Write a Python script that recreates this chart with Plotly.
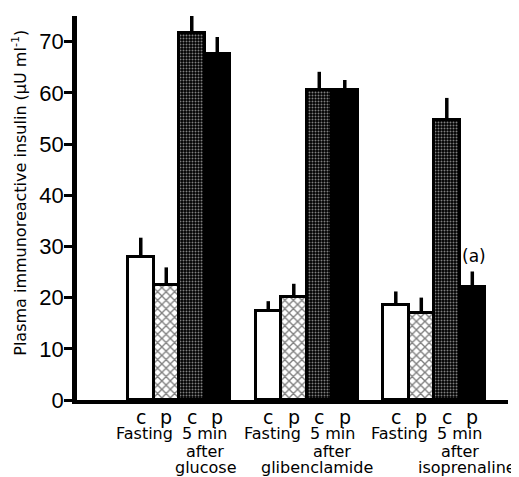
import plotly.graph_objects as go

# ---- data ----
groups = ["glucose", "glibenclamide", "isoprenaline"]
bar_letters = ["c", "p", "c", "p"]
fasting_c = [28.0, 17.3, 18.5]
fasting_c_err = [3.7, 2.0, 2.7]
fasting_p = [22.5, 20.2, 17.0]
fasting_p_err = [3.4, 2.5, 3.0]
after_c = [71.6, 60.5, 54.6]
after_c_err = [4.1, 3.6, 4.4]
after_p = [67.6, 60.5, 22.0]
after_p_err = [3.3, 2.0, 3.1]
y_ticks = [0, 10, 20, 30, 40, 50, 60, 70]
y_title = "Plasma immunoreactive insulin (\u03bcU ml<sup>-1</sup>)"
note_text = "(a)"

# ---- layout helpers ----
Y_MAX = 75.0
group_start = [2.0, 7.0, 12.0]
third_line_offset = [0.05, -0.6, 0.3]

def xs(k):
    return [s + k + 0.5 for s in group_start]

def py(v):
    return v / Y_MAX

fig = go.Figure()
series = [
    (fasting_c, fasting_c_err, dict(color="white")),
    (fasting_p, fasting_p_err, dict(color="white", pattern=dict(shape="x", fgcolor="black", bgcolor="white", size=6, solidity=0.4))),
    (after_c, after_c_err, dict(color="black", pattern=dict(shape=".", fgcolor="white", bgcolor="black", size=3, solidity=0.35))),
    (after_p, after_p_err, dict(color="black")),
]
for k, (vals, errs, mk) in enumerate(series):
    mk = dict(mk)
    mk["line"] = dict(color="black", width=3)
    fig.add_trace(go.Bar(
        x=xs(k), y=vals, width=1.0, marker=mk,
        error_y=dict(type="data", symmetric=False, array=errs,
                     arrayminus=[0] * len(errs), color="black",
                     thickness=3.5, width=0),
        showlegend=False,
    ))

ann = []
lbl_font = dict(family="DejaVu Sans", size=19, color="black")
txt_font = dict(family="DejaVu Sans", size=16, color="black")
for g, s in enumerate(group_start):
    for k, L in enumerate(bar_letters):
        ann.append(dict(x=s + k + 0.5, y=py(-3.3), yref="paper", text=L, showarrow=False,
                        font=lbl_font, xanchor="center", yanchor="middle"))
    ann.append(dict(x=s + 0.65, y=py(-6.6), yref="paper", text="Fasting", showarrow=False,
                    font=txt_font, xanchor="center", yanchor="middle"))
    ann.append(dict(x=s + 3.0, y=py(-6.6), yref="paper", text="5 min", showarrow=False,
                    font=txt_font, xanchor="center", yanchor="middle"))
    ann.append(dict(x=s + 3.0, y=py(-10.0), yref="paper", text="after", showarrow=False,
                    font=txt_font, xanchor="center", yanchor="middle"))
    ann.append(dict(x=s + 3.0 + third_line_offset[g], y=py(-13.2), yref="paper", text=groups[g],
                    showarrow=False, font=txt_font, xanchor="center", yanchor="middle"))

ann.append(dict(x=group_start[2] + 3.55, y=28.2, text=note_text, showarrow=False,
                font=dict(family="DejaVu Sans", size=17, color="black"),
                xanchor="center", yanchor="middle"))
ann.append(dict(x=-0.132, y=0.54, xref="paper", yref="paper", text=y_title,
                textangle=-90, showarrow=False,
                font=dict(family="DejaVu Sans", size=16, color="black"),
                xanchor="center", yanchor="middle"))

# the page body adds an 8px offset; size the figure to compensate
fig.update_layout(
    width=511, height=469,
    margin=dict(l=69, r=11, t=8, b=77),
    plot_bgcolor="white", paper_bgcolor="white",
    barmode="overlay", bargap=0,
    annotations=ann,
    xaxis=dict(range=[0, 16.9], showgrid=False, zeroline=False, showticklabels=False,
               ticks="", showline=True, linecolor="black", linewidth=3.5),
    yaxis=dict(range=[0, Y_MAX], tickvals=y_ticks, showgrid=False, zeroline=False,
               showline=True, linecolor="black", linewidth=4.5,
               ticks="outside", ticklen=8, tickwidth=3, tickcolor="black",
               ticklabelstandoff=-4,
               tickfont=dict(family="Liberation Sans", size=22, color="black")),
)

fig.write_html("out.html")
